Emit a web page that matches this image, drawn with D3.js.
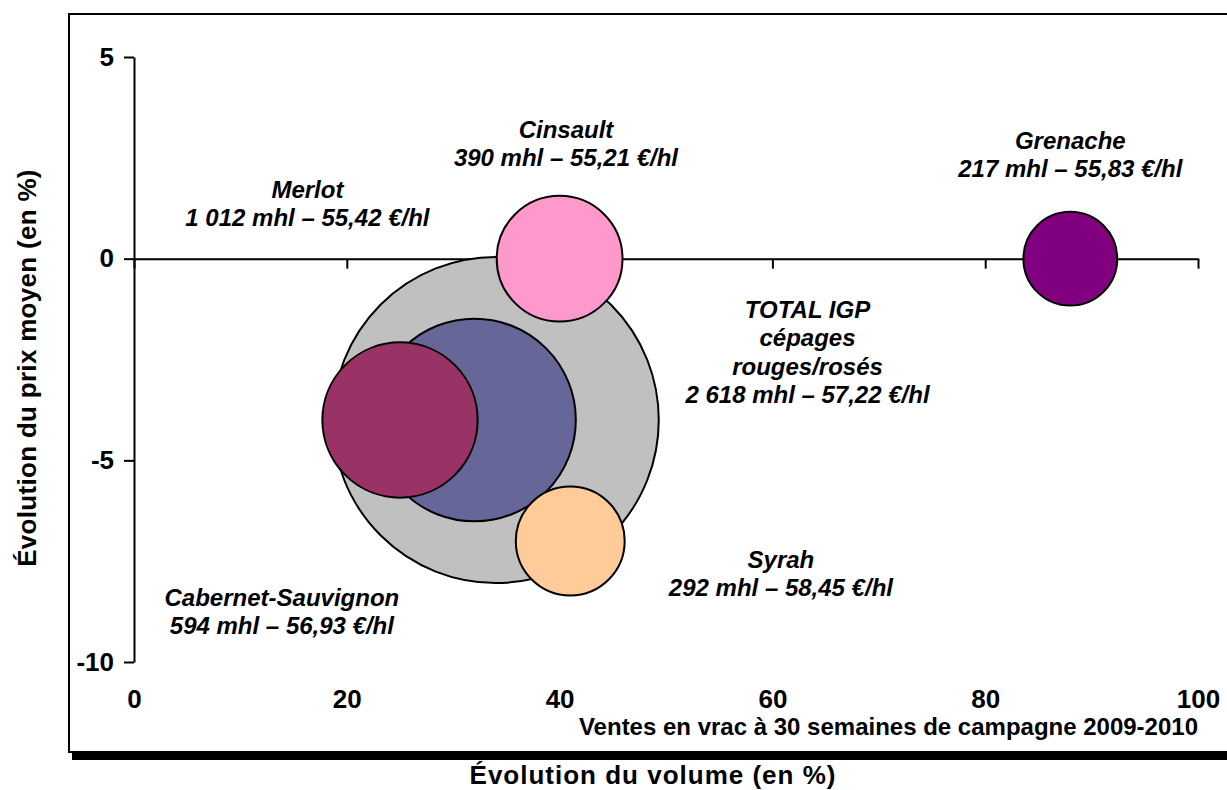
<!DOCTYPE html>
<html>
<head>
<meta charset="utf-8">
<script src="https://cdn.jsdelivr.net/npm/d3@7"></script>
<style>
  body { margin: 0; background: #fff; }
  svg { display: block; font-family: "Liberation Sans", Arial, sans-serif; }
</style>
</head>
<body>
<svg id="viz"></svg>
<script>
// ----------------------------------------------------------------------------------------------------------------
// DATA

var grapes = ["TOTAL IGP", "Merlot", "Cabernet-Sauvignon", "Syrah", "Cinsault", "Grenache"];
var volumeChange = [34, 32, 25, 41, 40, 88];     // x, in %
var priceChange = [-4, -4, -4, -7, 0, 0];        // y, in %
var volumes = [2618, 1012, 594, 292, 390, 217];  // mhl, bubble area
var prices = ["57,22", "55,42", "56,93", "58,45", "55,21", "55,83"];
var volumeLabels = ["2 618", "1 012", "594", "292", "390", "217"];
var fills = ["#C0C0C0", "#666699", "#993366", "#FFCC99", "#FF99CC", "#800080"];

var xTicks = [0, 20, 40, 60, 80, 100];
var yTicks = [-10, -5, 0, 5];

// ----------------------------------------------------------------------------------------------------------------
// SETUP

var w = 1227;
var h = 790;
var viz = d3.select("#viz").attr("width", w).attr("height", h);

var x = d3.scaleLinear().domain([0, 100]).range([134, 1198]);
var y = d3.scaleLinear().domain([-10, 5]).range([662, 57]);
var r = d3.scaleSqrt().domain([0, 2618]).range([0, 163]);

// frame + shadow
viz.append("rect")
  .attr("x", 72).attr("y", 753).attr("width", w).attr("height", 7)
  .attr("fill", "#000");
viz.append("rect")
  .attr("x", 69).attr("y", 14).attr("width", w).attr("height", 738)
  .attr("fill", "none").attr("stroke", "#000").attr("stroke-width", 2);

// ----------------------------------------------------------------------------------------------------------------
// AXES

// y axis
var yAxis = viz.append("g")
  .attr("transform", "translate(" + x(0) + ",0)")
  .call(d3.axisLeft(y).tickValues(yTicks).tickSize(10).tickSizeOuter(0).tickPadding(10)
    .tickFormat(function(d) { return String(d); }));

// zero line with its ticks
var xAxis = viz.append("g")
  .attr("transform", "translate(0," + y(0) + ")")
  .call(d3.axisBottom(x).tickValues(xTicks).tickSize(10).tickSizeOuter(0).tickFormat(""));

// x tick labels at the bottom
var xLabels = viz.append("g")
  .attr("transform", "translate(0," + y(-10) + ")")
  .call(d3.axisBottom(x).tickValues(xTicks).tickSize(0).tickPadding(28)
    .tickFormat(function(d) { return String(d); }));
xLabels.select(".domain").remove();

[yAxis, xAxis, xLabels].forEach(function(g) {
  g.selectAll(".domain, line").attr("stroke", "#000").attr("stroke-width", 2);
  g.selectAll("text")
    .attr("fill", "#000")
    .style("font-size", "26px")
    .style("font-weight", "bold")
    .style("font-family", "'Liberation Sans', Arial, sans-serif");
});

// ----------------------------------------------------------------------------------------------------------------
// BUBBLES

viz.append("g").selectAll("circle")
  .data(grapes)
  .enter()
  .append("circle")
  .attr("cx", function(d, i) { return x(volumeChange[i]); })
  .attr("cy", function(d, i) { return y(priceChange[i]); })
  .attr("r", function(d, i) { return r(volumes[i]); })
  .attr("fill", function(d, i) { return fills[i]; })
  .attr("stroke", "#000")
  .attr("stroke-width", 2);

// ----------------------------------------------------------------------------------------------------------------
// LABELS

// label anchor (data units) for the first line of each label
var labelAt = [[63.3, -1.46], [16.3, 1.51], [13.9, -8.6], [60.8, -7.66], [40.6, 3.0], [88.0, 2.73]];

var labels = viz.append("g")
  .selectAll("text")
  .data(grapes)
  .enter()
  .append("text")
  .attr("text-anchor", "middle")
  .attr("x", function(d, i) { return x(labelAt[i][0]); })
  .attr("y", function(d, i) { return y(labelAt[i][1]); })
  .style("font-size", "24px")
  .style("font-weight", "bold")
  .style("font-style", "italic");

labels.each(function(d, i) {
  var lines = d === "TOTAL IGP"
    ? ["TOTAL IGP", "cépages", "rouges/rosés"]
    : [d];
  lines.push(volumeLabels[i] + " mhl – " + prices[i] + " €/hl");
  var t = d3.select(this);
  var px = t.attr("x");
  lines.forEach(function(s, k) {
    t.append("tspan").attr("x", px).attr("dy", k === 0 ? 0 : 28.5).text(s);
  });
});

// ----------------------------------------------------------------------------------------------------------------
// TITLES

viz.append("text")
  .attr("x", 1198).attr("y", 735)
  .attr("text-anchor", "end")
  .style("font-size", "24px").style("font-weight", "bold")
  .text("Ventes en vrac à 30 semaines de campagne 2009-2010");

viz.append("text")
  .attr("x", 653).attr("y", 784)
  .attr("text-anchor", "middle")
  .style("font-size", "26px").style("font-weight", "bold").style("letter-spacing", "1px")
  .text("Évolution du volume (en %)");

viz.append("text")
  .attr("transform", "translate(36,368) rotate(-90)")
  .attr("text-anchor", "middle")
  .style("font-size", "26px").style("font-weight", "bold").style("letter-spacing", "0.3px")
  .text("Évolution du prix moyen (en %)");
</script>
</body>
</html>
